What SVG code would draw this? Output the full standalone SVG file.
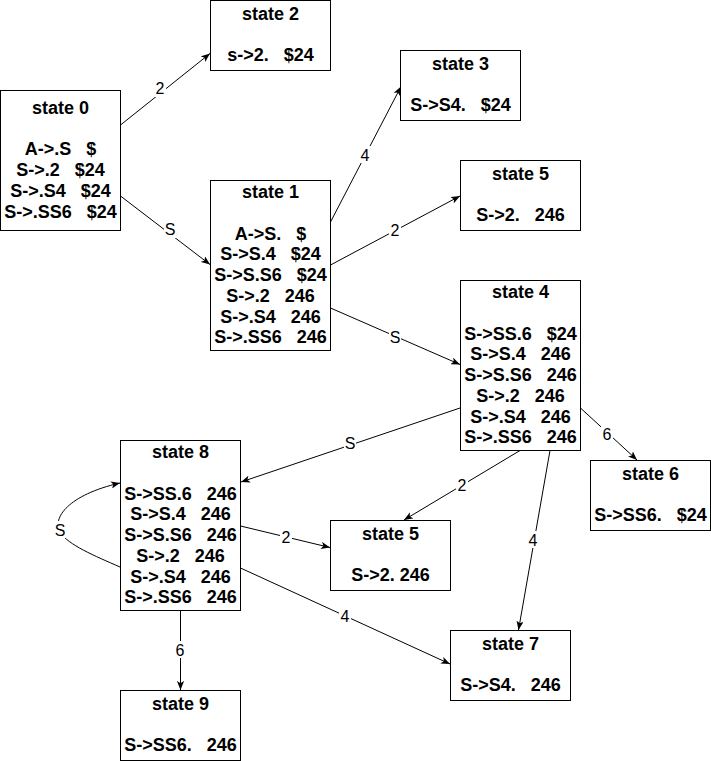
<svg xmlns="http://www.w3.org/2000/svg" width="711" height="761" viewBox="0 0 711 761">
<style>
.box{fill:#fff;stroke:#000;stroke-width:1}
.t{font-family:"Liberation Sans",Arial,sans-serif;font-size:18px;font-weight:bold;fill:#000;text-anchor:middle;white-space:pre}
.e{fill:none;stroke:#000;stroke-width:1;marker-end:url(#arr)}
.lb{fill:#fff}
.l{font-family:"Liberation Sans",Arial,sans-serif;font-size:16px;fill:#000;text-anchor:middle}
</style>
<defs>
<marker id="arr" viewBox="0 0 10 8" refX="10" refY="4" markerWidth="9" markerHeight="7.2" markerUnits="userSpaceOnUse" orient="auto">
<path d="M0,0 L10,4 L0,8 L2.5,4 Z" fill="#000"/>
</marker>
</defs>
<rect width="711" height="761" fill="#fff"/>
<g id="connectors">
<path class="e" d="M120.5,125 L210,53.5"/>
<path class="e" d="M120.5,196 L210,264.5"/>
<path class="e" d="M330.5,222 L401,86.5"/>
<path class="e" d="M330.5,265 L460,196"/>
<path class="e" d="M330.5,308 L460,364.5"/>
<path class="e" d="M580.5,408 L637,460"/>
<path class="e" d="M460,408 L241,482"/>
<path class="e" d="M520,450.5 L404,520"/>
<path class="e" d="M550,450.5 L518.5,630"/>
<path class="e" d="M240.5,526 L330,547.5"/>
<path class="e" d="M240.5,568 L450,664"/>
<path class="e" d="M180.5,610.5 L180.5,690"/>
<path class="e" d="M120,567 C95,556 68,545 60,532 C52,518 68,495 120,483"/>
<rect class="lb" x="154" y="80" width="12" height="17"/><text class="l" x="160" y="94">2</text>
<rect class="lb" x="164" y="221" width="12" height="17"/><text class="l" x="170" y="235">S</text>
<rect class="lb" x="359" y="146" width="12" height="17"/><text class="l" x="365" y="160.5">4</text>
<rect class="lb" x="389" y="221" width="12" height="17"/><text class="l" x="395" y="235.5">2</text>
<rect class="lb" x="389" y="328" width="12" height="17"/><text class="l" x="395" y="342.5">S</text>
<rect class="lb" x="601" y="425" width="12" height="17"/><text class="l" x="607" y="440">6</text>
<rect class="lb" x="344" y="435" width="12" height="17"/><text class="l" x="350" y="449">S</text>
<rect class="lb" x="456" y="477" width="12" height="17"/><text class="l" x="462" y="491">2</text>
<rect class="lb" x="527" y="531" width="12" height="17"/><text class="l" x="533" y="545.5">4</text>
<rect class="lb" x="280" y="528" width="12" height="17"/><text class="l" x="286" y="542.5">2</text>
<rect class="lb" x="339" y="607" width="12" height="17"/><text class="l" x="345" y="621.5">4</text>
<rect class="lb" x="174" y="641" width="12" height="17"/><text class="l" x="180" y="655.5">6</text>
<rect class="lb" x="54" y="521" width="12" height="17"/><text class="l" x="60" y="535.5">S</text>
</g>
<g id="state0"><rect class="box" x="0.5" y="90.5" width="120" height="140"/>
<text class="t" x="60.5" y="114">state 0</text>
<text class="t" x="60.5" y="155.4">A-&gt;.S   $</text>
<text class="t" x="60.5" y="176.1">S-&gt;.2   $24</text>
<text class="t" x="60.5" y="196.8">S-&gt;.S4   $24</text>
<text class="t" x="60.5" y="217.5">S-&gt;.SS6   $24</text></g>
<g id="state2"><rect class="box" x="210.5" y="0.5" width="120" height="70"/>
<text class="t" x="270.5" y="20">state 2</text>
<text class="t" x="270.5" y="61.4">s-&gt;2.   $24</text></g>
<g id="state1"><rect class="box" x="210.5" y="180.5" width="120" height="170"/>
<text class="t" x="270.5" y="198.3">state 1</text>
<text class="t" x="270.5" y="239.7">A-&gt;S.   $</text>
<text class="t" x="270.5" y="260.4">S-&gt;S.4   $24</text>
<text class="t" x="270.5" y="281.1">S-&gt;S.S6   $24</text>
<text class="t" x="270.5" y="301.8">S-&gt;.2   246</text>
<text class="t" x="270.5" y="322.5">S-&gt;.S4   246</text>
<text class="t" x="270.5" y="343.2">S-&gt;.SS6   246</text></g>
<g id="state3"><rect class="box" x="400.5" y="50.5" width="120" height="70"/>
<text class="t" x="460.5" y="70">state 3</text>
<text class="t" x="460.5" y="111.4">S-&gt;S4.   $24</text></g>
<g id="state5a"><rect class="box" x="460.5" y="160.5" width="120" height="70"/>
<text class="t" x="520.5" y="180">state 5</text>
<text class="t" x="520.5" y="221.4">S-&gt;2.   246</text></g>
<g id="state4"><rect class="box" x="460.5" y="280.5" width="120" height="170"/>
<text class="t" x="520.5" y="298.3">state 4</text>
<text class="t" x="520.5" y="339.7">S-&gt;SS.6   $24</text>
<text class="t" x="520.5" y="360.4">S-&gt;S.4   246</text>
<text class="t" x="520.5" y="381.1">S-&gt;S.S6   246</text>
<text class="t" x="520.5" y="401.8">S-&gt;.2   246</text>
<text class="t" x="520.5" y="422.5">S-&gt;.S4   246</text>
<text class="t" x="520.5" y="443.2">S-&gt;.SS6   246</text></g>
<g id="state6"><rect class="box" x="590.5" y="460.5" width="120" height="70"/>
<text class="t" x="650.5" y="480">state 6</text>
<text class="t" x="650.5" y="521.4">S-&gt;SS6.   $24</text></g>
<g id="state8"><rect class="box" x="120.5" y="440.5" width="120" height="170"/>
<text class="t" x="180.5" y="458.3">state 8</text>
<text class="t" x="180.5" y="499.7">S-&gt;SS.6   246</text>
<text class="t" x="180.5" y="520.4">S-&gt;S.4   246</text>
<text class="t" x="180.5" y="541.1">S-&gt;S.S6   246</text>
<text class="t" x="180.5" y="561.8">S-&gt;.2   246</text>
<text class="t" x="180.5" y="582.5">S-&gt;.S4   246</text>
<text class="t" x="180.5" y="603.2">S-&gt;.SS6   246</text></g>
<g id="state5b"><rect class="box" x="330.5" y="520.5" width="120" height="70"/>
<text class="t" x="390.5" y="540">state 5</text>
<text class="t" x="390.5" y="581.4">S-&gt;2. 246</text></g>
<g id="state7"><rect class="box" x="450.5" y="630.5" width="120" height="70"/>
<text class="t" x="510.5" y="650">state 7</text>
<text class="t" x="510.5" y="691.4">S-&gt;S4.   246</text></g>
<g id="state9"><rect class="box" x="120.5" y="690.5" width="120" height="70"/>
<text class="t" x="180.5" y="710">state 9</text>
<text class="t" x="180.5" y="751.4">S-&gt;SS6.   246</text></g>
</svg>
